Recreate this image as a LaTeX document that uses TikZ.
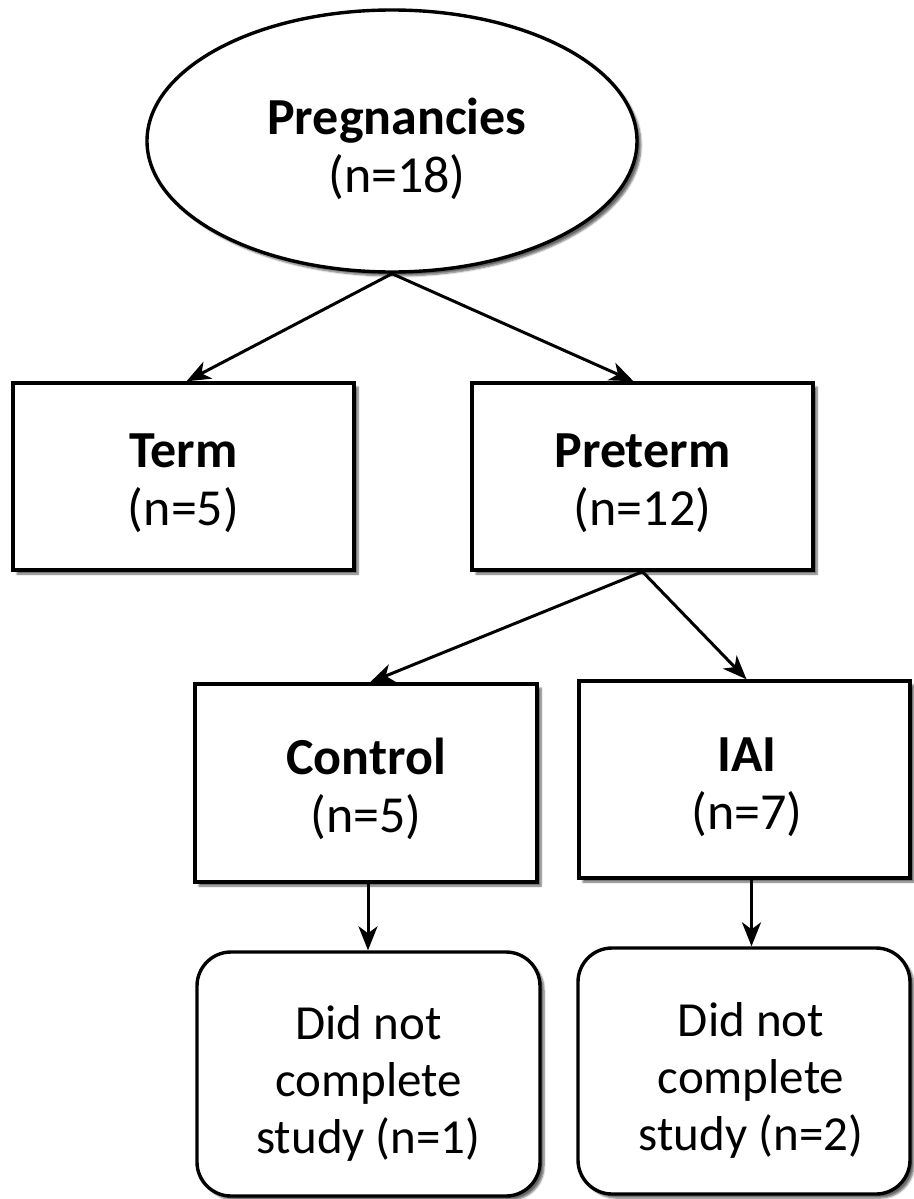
\documentclass[tikz,border=0pt]{standalone}
\usepackage{fontspec}
\setmainfont{Carlito}
\usetikzlibrary{shapes.geometric,arrows.meta,shadows.blur}
\begin{document}
\begin{tikzpicture}[x=1pt,y=-1pt,
  shadowed/.style={blur shadow={shadow xshift=4pt,shadow yshift=-4pt,shadow blur steps=6,shadow opacity=60}},
  bigbox/.style={draw=black,line width=3.4pt,fill=white,shadowed,inner sep=0pt},
  endbox/.style={bigbox,rounded corners=34pt},
  oval/.style={bigbox,ellipse},
  bigtxt/.style={inner sep=0pt,align=center,font=\fontsize{52}{58}\selectfont},
  endtxt/.style={inner sep=0pt,align=center,font=\fontsize{49}{57}\selectfont},
  link/.style={line width=3pt,-{Stealth[length=24pt,width=19pt,inset=7pt]}}]
\useasboundingbox (0,0) rectangle (913,1199);
\node[oval,minimum width=490pt,minimum height=262pt] (preg) at (392,141) {};
\node[bigbox,minimum width=341pt,minimum height=187pt] (term) at (183.5,476.5) {};
\node[bigbox,minimum width=341pt,minimum height=187pt] (preterm) at (642.5,476.5) {};
\node[bigbox,minimum width=342pt,minimum height=198pt] (control) at (366,783) {};
\node[bigbox,minimum width=331pt,minimum height=197pt] (iai) at (744.5,779.5) {};
\node[endbox,minimum width=343pt,minimum height=244pt] (dnc1) at (368.5,1074) {};
\node[endbox,minimum width=332pt,minimum height=246pt] (dnc2) at (744,1071) {};
\node[bigtxt] (pregtxt) at ([xshift=5pt,yshift=-8pt]preg.center) {\textbf{Pregnancies}\\(n=18)};
\node[bigtxt] (termtxt) at ([yshift=-7pt]term.center) {\textbf{Term}\\(n=5)};
\node[bigtxt] (pretermtxt) at ([yshift=-7pt]preterm.center) {\textbf{Preterm}\\(n=12)};
\node[bigtxt] (controltxt) at ([yshift=-6pt]control.center) {\textbf{Control}\\(n=5)};
\node[bigtxt] (iaitxt) at ([xshift=2.5pt,yshift=-8pt]iai.center) {\textbf{IAI}\\(n=7)};
\node[endtxt] (dnc1txt) at ([yshift=-9pt]dnc1.center) {Did not\\complete\\study (n=1)};
\node[endtxt] (dnc2txt) at ([xshift=7pt,yshift=-9pt]dnc2.center) {Did not\\complete\\study (n=2)};
\draw[link] (preg.south) -- ([xshift=3pt]term.north);
\draw[link] (preg.south) -- ([xshift=-9pt]preterm.north);
\draw[link] (preterm.south) -- ([xshift=4pt]control.north);
\draw[link] (preterm.south) -- ([xshift=2pt]iai.north);
\draw[link] ([xshift=2pt]control.south) -- ([xshift=2pt]control.south |- dnc1.north);
\draw[link] ([xshift=7pt]iai.south) -- ([xshift=7pt]iai.south |- dnc2.north);
\end{tikzpicture}
\end{document}
